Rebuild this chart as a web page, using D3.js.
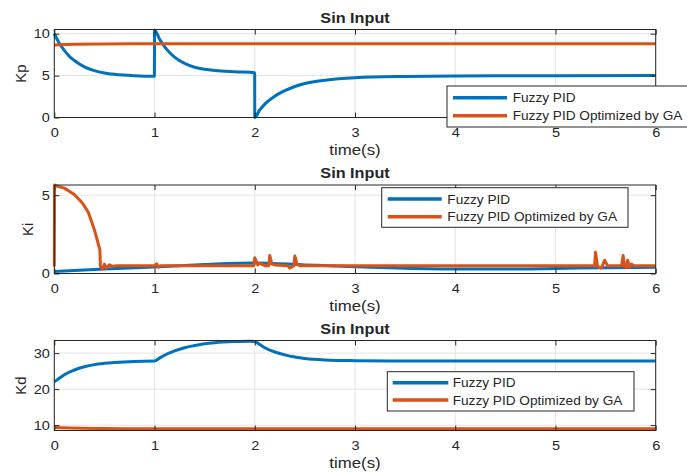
<!DOCTYPE html>
<html>
<head>
<meta charset="utf-8">
<script src="https://cdn.jsdelivr.net/npm/d3@7"></script>
<style>
  body { margin: 0; background: #fff; }
  svg { display: block; font-family: "Liberation Sans", Arial, sans-serif; }
  .grid line { stroke: #e4e4e4; stroke-width: 1; }
  .axis path { display: none; }
  .axis line { stroke: #262626; }
  .axis text { fill: #262626; font-size: 13px; font-family: "Liberation Sans", Arial, sans-serif; }
</style>
</head>
<body>
<svg width="687" height="473"></svg>
<script>
var svg = d3.select("svg"),
    width = +svg.attr("width"),
    height = +svg.attr("height");

var blue = "#0072BD",
    orange = "#D95319",
    ink = "#262626";

// shared x ticks
var timeTicks = [0, 1, 2, 3, 4, 5, 6];
var legendNames = ["Fuzzy PID", "Fuzzy PID Optimized by GA"];
var panelTitle = "Sin Input";
var xTitle = "time(s)";

// ---- Kp
var kpFuzzyT = [0, 0.05, 0.1, 0.15, 0.2, 0.3, 0.4, 0.5, 0.6, 0.8, 0.999,
                1.0, 1.05, 1.1, 1.15, 1.2, 1.3, 1.4, 1.5, 1.6, 1.8, 1.999,
                2.0, 2.05, 2.1, 2.2, 2.3, 2.4, 2.5, 2.7, 3.0, 3.5, 4, 5, 6];
var kpFuzzyV = [10, 8.87, 8.0, 7.3, 6.8, 6.05, 5.6, 5.32, 5.15, 4.98, 4.92,
                10.45, 9.35, 8.45, 7.75, 7.2, 6.45, 6.0, 5.75, 5.6, 5.45, 5.35,
                0, 0.9, 1.6, 2.55, 3.2, 3.7, 4.05, 4.45, 4.75, 4.9, 4.95, 4.98, 5.0];
var kpGaT = [0, 0.2, 1, 6];
var kpGaV = [8.65, 8.75, 8.8, 8.8];
var kpTicks = [0, 5, 10];

// ---- Ki
var kiFuzzyT = [0, 0.5, 1, 1.5, 2, 2.5, 3, 3.5, 4, 4.5, 5, 5.5, 6];
var kiFuzzyV = [0.13, 0.28, 0.42, 0.57, 0.67, 0.55, 0.43, 0.33, 0.28, 0.28, 0.32, 0.37, 0.4];
var kiGaT = [0, 0.003, 0.01, 0.1, 0.2, 0.28, 0.34, 0.4, 0.455, 0.46, 0.48, 0.5, 0.52, 0.55, 0.58, 0.62,
             1.0, 1.02, 1.04, 1.06, 1.99, 2.0, 2.03, 2.05, 2.1, 2.14, 2.15, 2.17, 2.2,
             2.33, 2.35, 2.39, 2.4, 2.42, 2.45, 5.39, 5.4, 5.42, 5.46, 5.49, 5.52, 5.6,
             5.66, 5.675, 5.69, 5.71, 5.72, 5.74, 5.76, 5.78, 6];
var kiGaV = [0.45, 5.65, 5.62, 5.45, 5.05, 4.5, 3.9, 2.8, 1.5, 0.45, 0.3, 0.6, 0.35, 0.55, 0.45, 0.5,
             0.5, 0.62, 0.4, 0.5, 0.5, 1.0, 0.55, 0.65, 0.5, 0.5, 1.15, 0.6, 0.55,
             0.5, 0.35, 0.5, 1.12, 0.6, 0.5, 0.5, 1.35, 0.45, 0.35, 0.85, 0.5, 0.5,
             0.5, 1.15, 0.45, 0.4, 0.85, 0.4, 0.6, 0.5, 0.5];
var kiTicks = [0, 5];

// ---- Kd
var kdFuzzyT = [0, 0.05, 0.1, 0.2, 0.3, 0.4, 0.5, 0.6, 0.8, 1.0, 1.05, 1.1, 1.2, 1.3, 1.4, 1.5, 1.6,
                1.8, 1.95, 2.0, 2.05, 2.1, 2.2, 2.3, 2.4, 2.5, 2.7, 3.0, 3.5, 6];
var kdFuzzyV = [22, 23.0, 24.0, 25.3, 26.2, 26.8, 27.15, 27.4, 27.7, 27.8, 28.6, 29.4, 30.6, 31.5, 32.1,
                32.6, 32.9, 33.2, 33.3, 33.2, 32.4, 31.5, 30.3, 29.5, 28.9, 28.5, 28.1, 27.9, 27.8, 27.8];
var kdGaT = [0, 0.5, 1, 6];
var kdGaV = [9.35, 9.05, 9.0, 9.0];
var kdTicks = [10, 20, 30];

var x = d3.scaleLinear().domain([0, 6]).range([54.3, 655.7]);

// text helper, the original is a little wider than tall
function label(g, px, py, s, size, anchor, weight, sx) {
    return g.append("text")
        .attr("transform", "translate(" + px + "," + py + ") scale(" + (sx || 1.12) + ",1)")
        .attr("text-anchor", anchor)
        .attr("fill", ink)
        .style("font-size", size + "px")
        .style("font-weight", weight || "normal")
        .text(s);
}

function zip(ts, vs) {
    return ts.map(function(t, i) { return [t, vs[i]]; });
}

function drawPanel(p) {
    var y = d3.scaleLinear().domain(p.yDomain).range([p.bottom, p.top]);
    var g = svg.append("g");

    // grid
    var grid = g.append("g").attr("class", "grid");
    grid.selectAll("line.gx").data(timeTicks).enter().append("line")
        .attr("x1", function(d) { return x(d); }).attr("x2", function(d) { return x(d); })
        .attr("y1", p.top).attr("y2", p.bottom);
    grid.selectAll("line.gy").data(p.yTicks).enter().append("line")
        .attr("y1", function(d) { return y(d); }).attr("y2", function(d) { return y(d); })
        .attr("x1", x.range()[0]).attr("x2", x.range()[1]);

    // data
    var clipId = "clip" + p.name;
    g.append("clipPath").attr("id", clipId).append("rect")
        .attr("x", x.range()[0] - 2).attr("y", p.top - 2)
        .attr("width", x.range()[1] - x.range()[0] + 4).attr("height", p.bottom - p.top + 4);

    p.series.forEach(function(s) {
        var line = d3.line()
            .x(function(d) { return x(d[0]); })
            .y(function(d) { return y(d[1]); })
            .curve(s.curve);
        g.append("path")
            .datum(zip(s.t, s.v))
            .attr("clip-path", "url(#" + clipId + ")")
            .attr("fill", "none")
            .attr("stroke", s.color)
            .attr("stroke-width", 3)
            .attr("stroke-linejoin", "round")
            .attr("d", line);
    });

    // axes, ticks point inward on all four sides
    g.append("g").attr("class", "axis")
        .attr("transform", "translate(0," + p.bottom + ")")
        .call(d3.axisBottom(x).tickValues(timeTicks).tickSize(-5).tickPadding(10).tickFormat(d3.format("d")))
        .selectAll("text").attr("transform", "scale(1.12,1)");
    g.append("g").attr("class", "axis")
        .attr("transform", "translate(0," + p.top + ")")
        .call(d3.axisTop(x).tickValues(timeTicks).tickSize(-5).tickFormat(""));
    g.append("g").attr("class", "axis")
        .attr("transform", "translate(" + x.range()[0] + ",0)")
        .call(d3.axisLeft(y).tickValues(p.yTicks).tickSize(-5).tickPadding(4).tickFormat(d3.format("d")))
        .selectAll("text").attr("transform", "scale(1.12,1)");
    g.append("g").attr("class", "axis")
        .attr("transform", "translate(" + x.range()[1] + ",0)")
        .call(d3.axisRight(y).tickValues(p.yTicks).tickSize(-5).tickFormat(""));

    g.append("rect")
        .attr("x", x.range()[0]).attr("y", p.top)
        .attr("width", x.range()[1] - x.range()[0]).attr("height", p.bottom - p.top)
        .attr("fill", "none").attr("stroke", ink).attr("stroke-width", 1);

    // titles
    label(g, 355, p.top - 6.8, panelTitle, 14.5, "middle", "bold");
    label(g, 355, p.bottom + 37, xTitle, 15, "middle");
    g.append("text")
        .attr("transform", "translate(" + p.labelX + "," + ((p.top + p.bottom) / 2) + ") rotate(-90)")
        .attr("text-anchor", "middle")
        .attr("fill", ink)
        .style("font-size", "15px")
        .text(p.ylabel);

    // legend
    var L = p.legend;
    var lg = g.append("g");
    lg.append("rect")
        .attr("x", L.x).attr("y", L.y).attr("width", L.w).attr("height", L.h)
        .attr("fill", "#fff").attr("stroke", ink).attr("stroke-width", 1);
    [blue, orange].forEach(function(c, i) {
        var ry = L.rows[i];
        lg.append("line")
            .attr("x1", L.x0).attr("x2", L.x1).attr("y1", ry).attr("y2", ry)
            .attr("stroke", c).attr("stroke-width", 3.5);
        label(lg, L.tx, ry + 4.6, legendNames[i], 13, "start", "normal", 1.05);
    });
}

drawPanel({
    name: "kp", top: 29.5, bottom: 117.5, yDomain: [0, 10.5], yTicks: kpTicks,
    ylabel: "Kp", labelX: 25.5,
    series: [
        { t: kpFuzzyT, v: kpFuzzyV, color: blue, curve: d3.curveMonotoneX },
        { t: kpGaT, v: kpGaV, color: orange, curve: d3.curveMonotoneX }
    ],
    legend: { x: 447, y: 86, w: 245, h: 41, x0: 453, x1: 507, rows: [97.7, 115.7], tx: 512.7 }
});

drawPanel({
    name: "ki", top: 185, bottom: 273.5, yDomain: [0, 5.65], yTicks: kiTicks,
    ylabel: "Ki", labelX: 32.5,
    series: [
        { t: kiFuzzyT, v: kiFuzzyV, color: blue, curve: d3.curveMonotoneX },
        { t: kiGaT, v: kiGaV, color: orange, curve: d3.curveLinear }
    ],
    legend: { x: 381.7, y: 187.7, w: 246.3, h: 39.6, x0: 387.7, x1: 441.7, rows: [199, 216.7], tx: 447.3 }
});

drawPanel({
    name: "kd", top: 340.5, bottom: 430.5, yDomain: [8.5, 33.5], yTicks: kdTicks,
    ylabel: "Kd", labelX: 26,
    series: [
        { t: kdFuzzyT, v: kdFuzzyV, color: blue, curve: d3.curveMonotoneX },
        { t: kdGaT, v: kdGaV, color: orange, curve: d3.curveMonotoneX }
    ],
    legend: { x: 387.3, y: 371.7, w: 246.7, h: 39.3, x0: 392.7, x1: 448.3, rows: [382.7, 400], tx: 452.7 }
});
</script>
</body>
</html>
